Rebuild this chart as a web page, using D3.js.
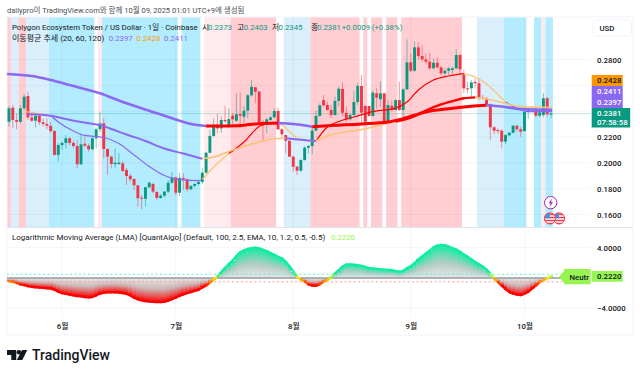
<!DOCTYPE html>
<html>
<head>
<meta charset="utf-8">
<script src="https://cdn.jsdelivr.net/npm/d3@7"></script>
<style>
  body { margin: 0; background: #fff; }
  svg { display: block; }
  text { font-family: Roboto, "Noto Sans CJK KR", sans-serif; font-size: 7.8px; fill: #131722; }
</style>
</head>
<body>
<svg id="chart" width="640" height="374"></svg>
<script>
// daily candles, May 18 to Oct 8 2025 (day 0 = May 18)
const opens = [.2318,.2427,.2332,.2318,.2422,.2517,.2352,.2326,.2363,.2314,.2301,.2287,.2246,.2061,.2138,.2154,.2190,.2154,.2130,.1989,.2148,.2133,.2105,.2190,.2260,.2306,.2107,.2048,.1989,.1991,.1996,.1945,.1900,.1875,.1826,.1730,.1722,.1811,.1836,.1774,.1728,.1746,.1777,.1846,.1888,.1769,.1883,.1873,.1795,.1821,.1836,.1852,.1924,.2078,.2208,.2295,.2267,.2332,.2293,.2365,.2326,.2376,.2357,.2404,.2523,.2585,.2551,.2318,.2293,.2332,.2352,.2401,.2260,.2215,.2171,.2048,.1970,.1939,.2022,.2117,.2130,.2249,.2363,.2486,.2448,.2409,.2370,.2479,.2572,.2388,.2337,.2370,.2471,.2595,.2440,.2440,.2363,.2538,.2492,.2538,.2318,.2442,.2409,.2486,.2409,.2569,.2778,.2713,.2894,.2827,.2801,.2783,.2732,.2775,.2739,.2693,.2713,.2719,.2732,.2835,.2685,.2577,.2577,.2626,.2616,.2504,.2499,.2455,.2275,.2254,.2249,.2164,.2213,.2233,.2287,.2260,.2246,.2396,.2405,.2414,.2365,.2370,.2500,.2373];
const highs = [.2440,.2448,.2383,.2448,.2533,.2551,.2383,.2383,.2378,.2345,.2345,.2318,.2254,.2151,.2164,.2215,.2202,.2171,.2177,.2229,.2202,.2151,.2202,.2275,.2396,.2345,.2113,.2055,.2113,.2078,.2014,.1960,.1914,.1880,.1828,.1751,.1815,.1854,.1846,.1782,.1759,.1782,.1867,.1931,.1893,.1924,.1919,.1880,.1826,.1842,.1862,.1958,.2086,.2254,.2345,.2378,.2363,.2440,.2422,.2386,.2538,.2543,.2440,.2533,.2641,.2589,.2558,.2332,.2345,.2363,.2422,.2427,.2267,.2215,.2171,.2053,.1976,.2027,.2130,.2138,.2280,.2404,.2461,.2525,.2473,.2448,.2512,.2589,.2620,.2435,.2386,.2558,.2616,.2680,.2448,.2445,.2564,.2577,.2628,.2543,.2486,.2481,.2492,.2628,.2577,.2956,.2848,.2938,.2935,.2912,.2848,.2852,.2809,.2817,.2750,.2732,.2739,.2744,.2879,.2842,.2724,.2628,.2641,.2654,.2654,.2525,.2512,.2461,.2285,.2267,.2262,.2223,.2239,.2293,.2293,.2280,.2404,.2422,.2440,.2422,.2435,.2538,.2512,.2403];
const lows = [.2280,.2267,.2260,.2306,.2409,.2332,.2318,.2275,.2293,.2280,.2260,.2233,.2058,.2009,.2099,.2113,.2138,.2120,.1958,.1983,.2120,.2086,.2099,.2113,.2241,.2035,.1906,.1958,.1958,.1983,.1929,.1828,.1854,.1790,.1661,.1640,.1661,.1803,.1764,.1712,.1722,.1733,.1764,.1836,.1751,.1743,.1790,.1777,.1790,.1811,.1826,.1836,.1919,.2074,.2202,.2229,.2231,.2308,.2270,.2293,.2318,.2267,.2306,.2345,.2512,.2461,.2311,.2177,.2231,.2324,.2345,.2254,.2190,.2074,.2048,.1931,.1906,.1931,.2017,.2074,.2068,.2246,.2355,.2435,.2404,.2347,.2363,.2435,.2357,.2318,.2326,.2357,.2448,.2306,.2306,.2357,.2357,.2422,.2435,.2306,.2306,.2396,.2404,.2404,.2347,.2564,.2703,.2705,.2796,.2783,.2770,.2719,.2724,.2732,.2680,.2667,.2680,.2688,.2724,.2680,.2538,.2538,.2512,.2577,.2486,.2492,.2450,.2177,.2221,.2223,.2113,.2146,.2208,.2229,.2241,.2202,.2241,.2339,.2396,.2352,.2352,.2352,.2357,.2345];
const closes = [.2422,.2332,.2318,.2422,.2512,.2352,.2326,.2363,.2314,.2301,.2287,.2246,.2061,.2138,.2154,.2190,.2154,.2130,.1989,.2143,.2133,.2105,.2190,.2260,.2306,.2107,.2048,.1991,.2001,.2001,.1937,.1898,.1873,.1826,.1726,.1722,.1811,.1846,.1777,.1728,.1746,.1777,.1846,.1888,.1769,.1883,.1873,.1795,.1821,.1836,.1852,.1924,.2078,.2208,.2295,.2267,.2332,.2322,.2339,.2337,.2376,.2365,.2404,.2523,.2589,.2551,.2311,.2306,.2337,.2352,.2401,.2260,.2221,.2171,.2048,.1970,.1939,.2022,.2117,.2130,.2249,.2363,.2445,.2445,.2409,.2370,.2479,.2574,.2388,.2337,.2370,.2471,.2595,.2388,.2318,.2363,.2543,.2504,.2538,.2318,.2448,.2409,.2486,.2409,.2569,.2778,.2713,.2894,.2827,.2801,.2783,.2732,.2775,.2739,.2693,.2713,.2732,.2732,.2835,.2724,.2577,.2569,.2622,.2616,.2504,.2496,.2455,.2275,.2249,.2246,.2164,.2215,.2233,.2287,.2260,.2241,.2396,.2414,.2414,.2365,.2391,.2500,.2376,.2381];

// moving averages, read at key days; turns = days where the line changes colour
const ma120Days = [-.5,6,11,16,24,30,37,44,48,52,56,60,65,71,75,79,80,85,93,100,104,110,116,122,126,130,135,143.3];
const ma120Prices = [.2688,.2672,.2641,.2602,.2538,.2471,.2404,.2335,.2301,.2285,.2285,.2287,.2301,.2308,.2301,.2285,.2280,.2289,.2301,.2316,.2342,.2394,.2419,.2438,.2446,.2436,.2417,.2411];
const ma120Turns = [52,71,80,126];
const ma120Shades = ['purple','red','purple','red','purple'];

const ma60Days = [5,11,15,19,23,24,27,31,36,41,46,51,54,58,62,66,70,73,76,79,81,84,88,93,98,102,106,108,110,114,118,120,123,126,129,132,135,139,143.3];
const ma60Prices = [.2376,.2365,.2339,.2316,.2297,.2293,.2262,.2219,.2169,.2111,.2072,.2032,.2045,.2088,.2126,.2161,.2187,.2190,.2181,.2173,.2169,.2208,.2235,.2258,.2293,.2320,.2351,.2374,.2405,.2452,.2486,.2500,.2507,.2494,.2475,.2452,.2436,.2431,.2428];
const ma60Turns = [51,73,81,102,123];
const ma60Shades = ['purple','orange','purple','orange','red','orange'];

const ma20Days = [4,7,11,13,17,20,23,25,29,33,37,41,45,50,51,54,58,62,66,68,71,73,76,79,81,84,87,91,96,102,105,108,112,116,120,123,126,129,131,134,137,143.3];
const ma20Prices = [.2396,.2386,.2366,.2316,.2246,.2212,.2204,.2196,.2150,.2061,.1972,.1902,.1870,.1862,.1871,.1968,.2072,.2161,.2281,.2301,.2312,.2270,.2192,.2169,.2169,.2277,.2320,.2355,.2397,.2424,.2471,.2564,.2641,.2672,.2690,.2664,.2610,.2529,.2471,.2421,.2397,.2397];
const ma20Turns = [11,51,58,71,81,120,131];
const ma20Shades = ['orange','purple','orange','red','orange','red','orange','purple'];

// background state runs, in days
const bandFrom = [-.5,.5,2.5,4.5,10.5,23.5,24.5,45.5,51.5,58.5,72.5,79.5,93.5,95.5,99.5,103.5,123.5,130.5,138.5,140.5,141.5];
const bandTo =   [.5,2.5,4.5,10.5,22.5,24.5,44.5,50.5,58.5,70.5,79.5,92.5,94.5,98.5,102.5,119.5,130.5,136.5,140.5,141.5,143.5];
const bandKind = ['hot','pale','hot','pale','sky','blush','sky','sky','blush','hot','pale','hot','hot','hot','hot','hot','pale','sky','sky','blush','sky'];

// Logarithmic Moving Average pane, one value per day
const lmaValues = [-.45,-.49,-.65,-.85,-.95,-1.08,-1.17,-1.22,-1.27,-1.31,-1.35,-1.38,-1.55,-1.8,-2,-2.1,-2.2,-2.3,-2.37,-2.43,-2.5,-2.55,-2.5,-2.3,-2.05,-1.95,-1.9,-1.88,-1.88,-1.92,-2,-2.1,-2.3,-2.6,-2.82,-2.95,-3.05,-3.12,-3.15,-3.17,-3.18,-3.15,-3,-2.8,-2.6,-2.35,-2.15,-2,-1.85,-1.7,-1.55,-1.25,-1,-.6,-.2,.2,.75,1.35,1.85,2.3,2.9,3.4,3.65,3.85,3.95,4,3.9,3.7,3.55,3.3,3.05,2.8,2.6,2.15,1.55,.85,.15,-.2,-.45,-.85,-1,-1.03,-.83,-.5,-.25,.05,.6,1.05,1.5,1.78,1.8,1.75,1.7,1.6,1.45,1.3,1.25,1.2,1.15,1.1,1.07,1.02,.9,.83,.95,1.3,1.55,1.95,2.45,2.85,3.25,3.6,4.05,4.28,4.35,4.33,4.15,3.95,3.75,3.47,3.1,2.8,2.45,2.1,1.8,1.5,1.1,.55,-.05,-.55,-1,-1.45,-1.85,-2.05,-2.2,-2.25,-2.08,-1.82,-1.4,-1,-.55,-.3,-.08,.222];

const monthDays = [14,44,75,106,136];
const monthLabels = ['6월','7월','8월','9월','10월'];
const priceGrid = [.16,.18,.2,.22,.24,.26,.28];
const priceTicks = [.16,.18,.2,.22,.28];
const lmaTicks = [4,-4];

const up = '#089981', down = '#f23645';
const shadeColors = { purple: '#8a68f2', red: '#ff0000', orange: '#fbc374' };
const bandColors = { hot: '#ffcdd2', pale: '#d9effc', sky: '#b3ecff', blush: '#ffebee' };

const left = 7, right = 590, frameRight = 633;
const mainTop = 17, mainBottom = 227, lmaBottom = 317, frameBottom = 335;

const svg = d3.select('#chart');
const x = d3.scaleLinear().domain([0, 143]).range([9, 551]);
const y = d3.scaleLinear().domain([.16, .28]).range([214.5, 59.5]);
const yLma = d3.scaleLinear().domain([-4, 4]).range([308.3, 247.7]);
const candleWidth = 2.9;

// background bands
svg.append('g').selectAll('rect').data(bandFrom).join('rect')
  .attr('x', d => x(d))
  .attr('width', (d, i) => x(bandTo[i]) - x(d))
  .attr('y', mainTop)
  .attr('height', mainBottom - mainTop)
  .attr('fill', (d, i) => bandColors[bandKind[i]]);

// grid
const grid = svg.append('g').attr('stroke', '#131722').attr('stroke-opacity', 0.04);
grid.selectAll('.v').data(monthDays).join('line')
  .attr('x1', d => x(d)).attr('x2', d => x(d)).attr('y1', mainTop).attr('y2', lmaBottom);
grid.selectAll('.h').data(priceGrid).join('line')
  .attr('x1', left).attr('x2', right).attr('y1', d => y(d)).attr('y2', d => y(d));
grid.selectAll('.l').data(lmaTicks).join('line')
  .attr('x1', left).attr('x2', right).attr('y1', d => yLma(d)).attr('y2', d => yLma(d));

// frame and pane separator
svg.append('rect').attr('x', left).attr('y', mainTop)
  .attr('width', frameRight - left).attr('height', frameBottom - mainTop)
  .attr('fill', 'none').attr('stroke', '#f0f3fa');
svg.append('line').attr('x1', left).attr('x2', frameRight)
  .attr('y1', mainBottom + .5).attr('y2', mainBottom + .5)
  .attr('stroke', '#e0e3eb').attr('stroke-width', 1.2);

// last price line
svg.append('line').attr('x1', left).attr('x2', right)
  .attr('y1', y(closes[143])).attr('y2', y(closes[143]))
  .attr('stroke', up).attr('stroke-opacity', 0.25);

// candles
const candles = svg.append('g');
candles.selectAll('.wick').data(opens).join('line')
  .attr('x1', (d, i) => x(i)).attr('x2', (d, i) => x(i))
  .attr('y1', (d, i) => y(highs[i])).attr('y2', (d, i) => y(lows[i]))
  .attr('stroke', (d, i) => closes[i] >= d ? up : down)
  .attr('stroke-opacity', 0.5);
candles.selectAll('.body').data(opens).join('rect')
  .attr('x', (d, i) => x(i) - candleWidth / 2)
  .attr('width', candleWidth)
  .attr('y', (d, i) => y(Math.max(d, closes[i])))
  .attr('height', (d, i) => Math.max(1, Math.abs(y(d) - y(closes[i]))))
  .attr('fill', (d, i) => closes[i] >= d ? up : down);

// moving averages, cut into runs of one colour
function drawAverage(days, prices, turns, shades, widths) {
  const line = d3.line().x(d => x(d[0])).y(d => y(d[1])).curve(d3.curveMonotoneX);
  const pts = days.map((d, i) => [d, prices[i]]);
  shades.forEach((shade, k) => {
    const from = k === 0 ? -Infinity : turns[k - 1];
    const to = k === turns.length ? Infinity : turns[k];
    svg.append('path')
      .attr('d', line(pts.filter(p => p[0] >= from && p[0] <= to)))
      .attr('fill', 'none')
      .attr('stroke', shadeColors[shade])
      .attr('stroke-width', widths[shade]);
  });
}
drawAverage(ma20Days, ma20Prices, ma20Turns, ma20Shades, { purple: 1.2, orange: 1.2, red: 1.2 });
drawAverage(ma60Days, ma60Prices, ma60Turns, ma60Shades, { purple: 2, orange: 1.6, red: 2.4 });
drawAverage(ma120Days, ma120Prices, ma120Turns, ma120Shades, { purple: 2.6, red: 3 });

// LMA pane: a gradient column for each day, thick line on top
const defs = svg.append('defs');
[['lmaUp', '#10eda2', 0, 1], ['lmaDown', '#ff0000', 1, 0]].forEach(g => {
  const grad = defs.append('linearGradient').attr('id', g[0])
    .attr('x1', 0).attr('x2', 0).attr('y1', g[2]).attr('y2', g[3]);
  grad.append('stop').attr('offset', '0%').attr('stop-color', g[1]);
  grad.append('stop').attr('offset', '55%').attr('stop-color', '#c4a9a9').attr('stop-opacity', .85);
  grad.append('stop').attr('offset', '100%').attr('stop-color', '#dcdcdc').attr('stop-opacity', .7);
});
defs.select('#lmaUp').select('stop:nth-child(2)').attr('stop-color', '#a8c4ba');
const step = x(1) - x(0);
svg.append('g').attr('shape-rendering', 'crispEdges').selectAll('rect').data(lmaValues).join('rect')
  .attr('x', (d, i) => x(i) - step / 2)
  .attr('width', step)
  .attr('y', d => Math.min(yLma(d), yLma(0)))
  .attr('height', d => Math.abs(yLma(d) - yLma(0)))
  .attr('fill', d => d >= 0 ? 'url(#lmaUp)' : 'url(#lmaDown)');

svg.append('line').attr('x1', left).attr('x2', right)
  .attr('y1', yLma(.5)).attr('y2', yLma(.5))
  .attr('stroke', '#5ff2c7').attr('stroke-dasharray', '2 2.5');
svg.append('line').attr('x1', left).attr('x2', right)
  .attr('y1', yLma(-.5)).attr('y2', yLma(-.5))
  .attr('stroke', '#ff9c9c').attr('stroke-dasharray', '2 2.5');
svg.append('line').attr('x1', left).attr('x2', right)
  .attr('y1', yLma(0)).attr('y2', yLma(0))
  .attr('stroke', '#9598a1').attr('stroke-width', 1.6);

const lmaColor = d3.scaleLinear()
  .domain([-1, -.5, 0, .25, .6])
  .range(['#ff0000', '#ff7a00', '#ffe600', '#9dff57', '#10eda2'])
  .clamp(true);
svg.append('g').selectAll('line').data(lmaValues.slice(1)).join('line')
  .attr('x1', (d, i) => x(i)).attr('x2', (d, i) => x(i + 1))
  .attr('y1', (d, i) => yLma(lmaValues[i])).attr('y2', d => yLma(d))
  .attr('stroke', (d, i) => lmaColor((d + lmaValues[i]) / 2))
  .attr('stroke-width', 2.4)
  .attr('stroke-linecap', 'round');

// axes
const priceAxis = svg.append('g').attr('transform', `translate(${right},0)`)
  .call(d3.axisRight(y).tickValues(priceTicks).tickFormat(d3.format('.4f')).tickSize(0).tickPadding(7));
const lmaAxis = svg.append('g').attr('transform', `translate(${right},0)`)
  .call(d3.axisRight(yLma).tickValues(lmaTicks).tickFormat(d3.format('.4f')).tickSize(0).tickPadding(7));
const timeAxis = svg.append('g').attr('transform', `translate(0,${lmaBottom})`)
  .call(d3.axisBottom(x).tickValues(monthDays).tickFormat((d, i) => monthLabels[i]).tickSize(0).tickPadding(6));
[priceAxis, lmaAxis, timeAxis].forEach(a => {
  a.select('.domain').remove();
  a.selectAll('text').style('font-family', 'Roboto, "Noto Sans CJK KR", sans-serif').style('font-size', '7.8px').style('font-weight', 500).style('fill', '#131722');
});

// price boxes on the right
function priceBox(x0, y0, w, h, fill) {
  svg.append('rect').attr('x', x0).attr('y', y0).attr('width', w).attr('height', h).attr('fill', fill);
}
function label(xp, yp, str, color, extra) {
  const t = svg.append('text').attr('x', xp).attr('y', yp).attr('dy', '.35em').text(str).attr('fill', color).style('fill', color);
  if (extra) Object.keys(extra).forEach(k => t.style(k, extra[k]));
  return t;
}
priceBox(591.7, 75, 31, 11, '#ff9800');
priceBox(591.7, 86, 31, 22, '#8a68f2');
priceBox(591.7, 108, 38.5, 19.5, up);
label(597, 80.5, '0.2428', '#131722', { 'font-weight': 500 });
label(597, 91.5, '0.2411', '#fff', { 'font-weight': 500 });
label(597, 102.5, '0.2397', '#fff', { 'font-weight': 500 });
label(597, 113.7, '0.2381', '#fff', { 'font-weight': 500 });
label(597, 122.5, '07:58:58', '#fff', { 'font-weight': 500 });

// USD button
svg.append('rect').attr('x', 593).attr('y', 20).attr('width', 38.5).attr('height', 16).attr('rx', 3)
  .attr('fill', '#fff').attr('stroke', '#f0f3fa');
label(599.5, 28, 'USD', '#131722', { 'font-weight': 500 });

// Neutr flag and value box
svg.append('polygon')
  .attr('points', '559,277 564,271 564,269 590.7,269 590.7,284.3 564,284.3 564,282.5')
  .attr('fill', '#97f552');
label(569.5, 277, 'Neutr', '#131722', { 'font-weight': 500 });
priceBox(591.7, 271, 31, 10.7, '#97f552');
label(597, 276.5, '0.2220', '#131722', { 'font-weight': 500 });

// event markers
svg.append('circle').attr('cx', 550.7).attr('cy', 202.7).attr('r', 6.2)
  .attr('fill', '#fff').attr('stroke', '#9c27b0').attr('stroke-width', 1);
svg.append('path').attr('d', 'M552 198.5 L548.6 203.2 L550.6 203.2 L549.6 207 L553 202.2 L551 202.2 Z').attr('fill', '#9c27b0');
[559, 550].forEach(cx => {
  const cy = 218.4;
  const clip = 'flag' + cx;
  defs.append('clipPath').attr('id', clip).append('circle').attr('cx', cx).attr('cy', cy).attr('r', 5.6);
  const g = svg.append('g');
  g.append('circle').attr('cx', cx).attr('cy', cy).attr('r', 5.6).attr('fill', '#fff');
  const inner = g.append('g').attr('clip-path', `url(#${clip})`);
  [-4, -1, 2, 5].forEach(dy => inner.append('rect').attr('x', cx - 6).attr('y', cy + dy - .6).attr('width', 12).attr('height', 1.4).attr('fill', '#f23645'));
  inner.append('rect').attr('x', cx - 6).attr('y', cy - 6).attr('width', 6).attr('height', 6).attr('fill', '#4a90e2');
  g.append('circle').attr('cx', cx).attr('cy', cy).attr('r', 5.6).attr('fill', 'none').attr('stroke', '#f23645').attr('stroke-width', 1);
});

// header and legends
label(7, 10, 'dailypro이 TradingView.com와 함께 10월 09, 2025 01:01 UTC+9에 생성됨', '#4a4e58', { 'font-size': '7.5px' });
label(12, 27.3, 'Polygon Ecosystem Token / US Dollar · 1일 · Coinbase', '#131722', { 'font-size': '7.8px' });
[[202, '시', '#131722'], [208, '0.2373', up], [237, '고', '#131722'], [243.7, '0.2403', up],
 [272, '저', '#131722'], [278.5, '0.2345', up], [311, '종', '#131722'], [317, '0.2381', up],
 [341.7, '+0.0009', up], [371.7, '(+0.38%)', up]].forEach(d => label(d[0], 27.3, d[1], d[2]));
label(12, 38, '이동평균 추세 (20, 60, 120)', '#131722', { 'font-size': '8px' });
label(108.7, 38, '0.2397', '#8a68f2');
label(136.3, 38, '0.2428', '#ff9800');
label(164, 38, '0.2411', '#8a68f2');
label(12, 237.5, 'Logarithmic Moving Average (LMA) [QuantAlgo] (Default, 100, 2.5, EMA, 10, 1.2, 0.5, -0.5)', '#131722', { 'font-size': '8px' });
label(331, 237.5, '0.2220', '#97f552');

// TradingView logo
svg.append('path').attr('d', 'M7 350 H16.3 V360 H11.3 V355 H7 Z').attr('fill', '#131722');
svg.append('circle').attr('cx', 19).attr('cy', 352.3).attr('r', 2.3).attr('fill', '#131722');
svg.append('path').attr('d', 'M22 350 H27.3 L22.3 360 H16.8 Z').attr('fill', '#131722');
label(32, 355, 'TradingView', '#131722', { 'font-size': '14px', 'font-weight': 500 });
</script>
</body>
</html>
